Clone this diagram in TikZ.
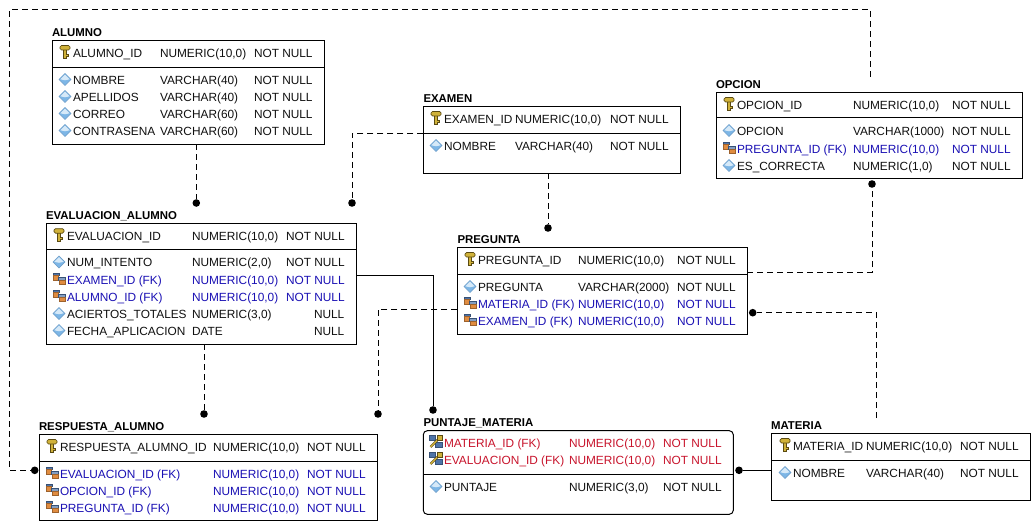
\documentclass[tikz,border=0pt]{standalone}
\usepackage{fontspec}
\setmainfont{Liberation Sans}
\definecolor{fkblue}{HTML}{1A10B4}
\definecolor{pfred}{HTML}{C8142C}
\definecolor{txt}{HTML}{101010}
\definecolor{diaA}{HTML}{7DB6E6}
\definecolor{diaB}{HTML}{D6E9F8}
\definecolor{diaC}{HTML}{6C9CC8}
\definecolor{keyA}{HTML}{D0B23A}
\definecolor{keyB}{HTML}{5A4A12}
\definecolor{fkA}{HTML}{E08C40}
\definecolor{fkB}{HTML}{4E74A8}
\tikzset{
  x=1pt,y=-1pt,
  tbl/.style={draw=black,line width=1pt,fill=none,inner sep=0pt,outer sep=0pt,anchor=north west},
  sepline/.style={draw=black,line width=1pt},
  ttl/.style={anchor=base west,inner sep=0pt,outer sep=0pt,font=\fontsize{11.4}{13}\selectfont\bfseries,text=black},
  cell/.style={anchor=base west,inner sep=0pt,outer sep=0pt,font=\fontsize{11.85}{14}\selectfont},
  rel/.style={draw=black,line width=1pt},
  reld/.style={rel,dash pattern=on 6pt off 4pt},
  enddot/.style={circle,fill=black,draw=none,minimum size=7.6pt,inner sep=0pt,outer sep=0pt}
}
\newcounter{nn}
\newcommand\icD{%
  \fill[diaA,draw=diaC,line width=.5pt] (-6,0)--(0,-6)--(6,0)--(0,6)--cycle;
  \fill[diaB] (-4.6,-.2)--(0,-4.8)--(4.6,-.2)--(0,.8)--cycle;}
\newcommand\icK{%
  \fill[keyA,draw=keyB,line width=.7pt] (-1.6,-4)--(1.6,-4)--(1.6,2)--(3,2)--(3,4)--(1,4)--(1,5.5)--(-1.6,5.5)--cycle;
  \fill[keyA,draw=keyB,line width=.7pt,rounded corners=1.5pt] (-5,-7)--(5,-7)--(5,-2.5)--(-5,-2.5)--cycle;}
\newcommand\icF{%
  \fill[fkB,draw=fkB!70!black,line width=.4pt] (-6,-6.5)--(0,-6.5)--(0,-4)--(-6,-4)--cycle;
  \fill[fkA,draw=fkA!70!black,line width=.4pt] (-6,-4)--(-.5,-4)--(-.5,.5)--(-6,.5)--cycle;
  \fill[fkB!70!white,draw=fkB!70!black,line width=.4pt] (-.5,-2)--(6,-2)--(6,1)--(-.5,1)--cycle;
  \fill[fkA,draw=fkA!70!black,line width=.4pt] (.5,1)--(6,1)--(6,5)--(.5,5)--cycle;}
\newcommand\icP{%
  \fill[fkB,draw=fkB!70!black,line width=.4pt] (-6.5,-7)--(-.5,-7)--(-.5,-2)--(-6.5,-2)--cycle;
  \fill[fkB,draw=fkB!70!black,line width=.4pt] (-.5,-.5)--(6,-.5)--(6,5)--(-.5,5)--cycle;
  \draw[keyB,line width=2.4pt] (-5.5,4.5)--(4,-5);
  \draw[keyA,line width=1.4pt] (-5.5,4.5)--(4,-5);
  \fill[keyA,draw=keyB,line width=.6pt] (1.5,-7)--(6,-7)--(6,-2.5)--(1.5,-2.5)--cycle;}
% #1 icon  #2 colour  #3 y  #4,#5 name  #6,#7 type  #8,#9 nullability
\newcommand\Row[9]{%
  \begin{scope}[shift={(#4-8,#3)}]\csname ic#1\endcsname\end{scope}
  \stepcounter{nn}\node[cell,text=#2] (c\arabic{nn}) at (#4,#3+4.8) {#5};
  \stepcounter{nn}\node[cell,text=#2] (c\arabic{nn}) at (#6,#3+4.8) {#7};
  \stepcounter{nn}\node[cell,text=#2] (c\arabic{nn}) at (#8,#3+4.8) {#9};
}
\begin{document}
\begin{tikzpicture}
\useasboundingbox (0,0) rectangle (1034,524);
\fill[white] (0,0) rectangle (1034,524);

% ---------- tables ----------
\node[tbl,minimum width=272pt,minimum height=104pt] (alumno) at (52.3,40.3) {};
\node[tbl,minimum width=310pt,minimum height=120.7pt] (evaluacion) at (46.3,223.3) {};
\node[tbl,minimum width=338.4pt,minimum height=86pt] (respuesta) at (39.3,434.3) {};
\node[tbl,rounded corners=4pt,minimum width=310pt,minimum height=83.6pt] (puntaje) at (423.3,430.7) {};
\node[tbl,minimum width=259.4pt,minimum height=67pt] (materia) at (771.3,433.3) {};
\node[tbl,minimum width=290pt,minimum height=87pt] (pregunta) at (457.3,247.3) {};
\node[tbl,minimum width=257pt,minimum height=66.6pt] (examen) at (423.3,106.7) {};
\node[tbl,minimum width=306.4pt,minimum height=86pt] (opcion) at (716.3,92.3) {};

% separators
\draw[sepline] (alumno.west |- 0,67.3) -- (alumno.east |- 0,67.3);
\draw[sepline] (evaluacion.west |- 0,249.3) -- (evaluacion.east |- 0,249.3);
\draw[sepline] (respuesta.west |- 0,461.3) -- (respuesta.east |- 0,461.3);
\draw[sepline] (puntaje.west |- 0,474.3) -- (puntaje.east |- 0,474.3);
\draw[sepline] (materia.west |- 0,460.3) -- (materia.east |- 0,460.3);
\draw[sepline] (pregunta.west |- 0,274) -- (pregunta.east |- 0,274);
\draw[sepline] (examen.west |- 0,133.3) -- (examen.east |- 0,133.3);
\draw[sepline] (opcion.west |- 0,118) -- (opcion.east |- 0,118);

% titles
\node[ttl] (talumno) at (52,36.3) {ALUMNO};
\node[ttl] (tevaluacion) at (46,219.7) {EVALUACION\_ALUMNO};
\node[ttl] (trespuesta) at (39,430.7) {RESPUESTA\_ALUMNO};
\node[ttl] (tpuntaje) at (423.5,426.7) {PUNTAJE\_MATERIA};
\node[ttl] (tmateria) at (771,429.3) {MATERIA};
\node[ttl] (tpregunta) at (457.5,243.7) {PREGUNTA};
\node[ttl] (texamen) at (423.5,102.3) {EXAMEN};
\node[ttl] (topcion) at (716,88.3) {OPCION};

% rows
\Row{K}{txt}{52.5}{73}{ALUMNO\_ID}{160}{NUMERIC(10,0)}{254}{NOT NULL}
\Row{D}{txt}{79.5}{73}{NOMBRE}{160}{VARCHAR(40)}{254}{NOT NULL}
\Row{D}{txt}{96.5}{73}{APELLIDOS}{160}{VARCHAR(40)}{254}{NOT NULL}
\Row{D}{txt}{113.5}{73}{CORREO}{160}{VARCHAR(60)}{254}{NOT NULL}
\Row{D}{txt}{130.5}{73}{CONTRASENA}{160}{VARCHAR(60)}{254}{NOT NULL}

\Row{K}{txt}{235.7}{67}{EVALUACION\_ID}{192}{NUMERIC(10,0)}{286}{NOT NULL}
\Row{D}{txt}{262}{67}{NUM\_INTENTO}{192}{NUMERIC(2,0)}{286}{NOT NULL}
\Row{F}{fkblue}{279.5}{67}{EXAMEN\_ID (FK)}{192}{NUMERIC(10,0)}{286}{NOT NULL}
\Row{F}{fkblue}{296.5}{67}{ALUMNO\_ID (FK)}{192}{NUMERIC(10,0)}{286}{NOT NULL}
\Row{D}{txt}{313.5}{67}{ACIERTOS\_TOTALES}{192}{NUMERIC(3,0)}{314}{NULL}
\Row{D}{txt}{330.5}{67}{FECHA\_APLICACION}{192}{DATE}{314}{NULL}

\Row{K}{txt}{446.5}{60}{RESPUESTA\_ALUMNO\_ID}{213}{NUMERIC(10,0)}{307}{NOT NULL}
\Row{F}{fkblue}{473.5}{60}{EVALUACION\_ID (FK)}{213}{NUMERIC(10,0)}{307}{NOT NULL}
\Row{F}{fkblue}{490.5}{60}{OPCION\_ID (FK)}{213}{NUMERIC(10,0)}{307}{NOT NULL}
\Row{F}{fkblue}{507.5}{60}{PREGUNTA\_ID (FK)}{213}{NUMERIC(10,0)}{307}{NOT NULL}

\Row{P}{pfred}{442.5}{444}{MATERIA\_ID (FK)}{569}{NUMERIC(10,0)}{663}{NOT NULL}
\Row{P}{pfred}{459.5}{444}{EVALUACION\_ID (FK)}{569}{NUMERIC(10,0)}{663}{NOT NULL}
\Row{D}{txt}{486.5}{444}{PUNTAJE}{569}{NUMERIC(3,0)}{663}{NOT NULL}

\Row{K}{txt}{445.5}{793}{MATERIA\_ID}{866}{NUMERIC(10,0)}{960}{NOT NULL}
\Row{D}{txt}{472.5}{793}{NOMBRE}{866}{VARCHAR(40)}{960}{NOT NULL}

\Row{K}{txt}{259.5}{478}{PREGUNTA\_ID}{578}{NUMERIC(10,0)}{677}{NOT NULL}
\Row{D}{txt}{286.5}{478}{PREGUNTA}{578}{VARCHAR(2000)}{677}{NOT NULL}
\Row{F}{fkblue}{303.5}{478}{MATERIA\_ID (FK)}{578}{NUMERIC(10,0)}{677}{NOT NULL}
\Row{F}{fkblue}{320.5}{478}{EXAMEN\_ID (FK)}{578}{NUMERIC(10,0)}{677}{NOT NULL}

\Row{K}{txt}{118.5}{444}{EXAMEN\_ID}{515}{NUMERIC(10,0)}{610}{NOT NULL}
\Row{D}{txt}{145.5}{444}{NOMBRE}{515}{VARCHAR(40)}{610}{NOT NULL}

\Row{K}{txt}{104.5}{737}{OPCION\_ID}{853}{NUMERIC(10,0)}{952}{NOT NULL}
\Row{D}{txt}{130.5}{737}{OPCION}{853}{VARCHAR(1000)}{952}{NOT NULL}
\Row{F}{fkblue}{148.5}{737}{PREGUNTA\_ID (FK)}{853}{NUMERIC(10,0)}{952}{NOT NULL}
\Row{D}{txt}{165.5}{737}{ES\_CORRECTA}{853}{NUMERIC(1,0)}{952}{NOT NULL}

% ---------- connector ends ----------
\node[enddot] (d1) at (196.3,203) {};
\node[enddot] (d2) at (352,203) {};
\node[enddot] (d3) at (548,228) {};
\node[enddot] (d4) at (204,414) {};
\node[enddot] (d5) at (378,414) {};
\node[enddot] (d6) at (433,410) {};
\node[enddot] (d7) at (34.7,470.3) {};
\node[enddot] (d8) at (872,184) {};
\node[enddot] (d9) at (752.7,312.7) {};
\node[enddot] (d10) at (739,470.3) {};
\coordinate (o1) at (870.3,77);
\coordinate (m1) at (876.3,418);

% ---------- connectors ----------
\draw[reld] (alumno.south -| d1) -- (d1);
\draw[reld] (examen.west |- 0,133.3) -- (352,133.3) -- (d2);
\draw[reld] (examen.south -| d3) -- (d3);
\draw[reld] (evaluacion.south -| d4) -- (d4);
\draw[rel] (evaluacion.east |- 0,275.7) -- (d6 |- 0,275.7) -- (d6);
\draw[reld] (pregunta.west |- 0,309.3) -- (d5 |- 0,309.3) -- (d5);
\draw[reld] (o1) -- (870.3,9.5) -- (9.5,9.5) -- (9.5,470.3) -- (d7);
\draw[reld] (pregunta.east |- 0,272.3) -- (d8 |- 0,272.3) -- (d8);
\draw[reld] (m1) -- (876.3,312.7) -- (d9);
\draw[rel] (materia.west |- d10) -- (d10);
\end{tikzpicture}
\end{document}
